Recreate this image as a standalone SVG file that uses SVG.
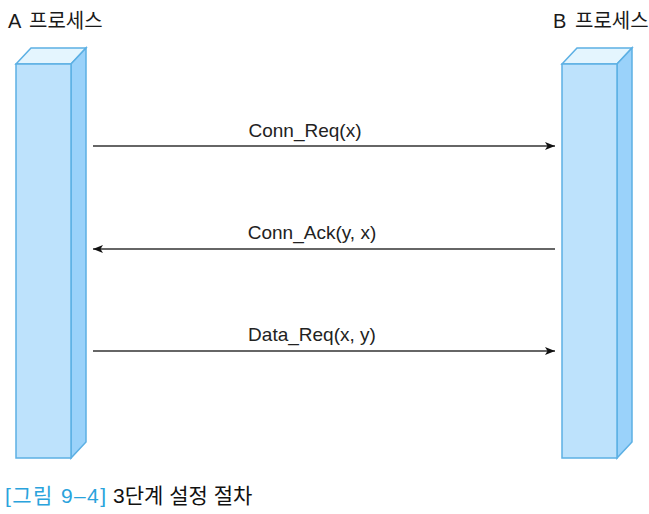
<svg xmlns="http://www.w3.org/2000/svg" width="649" height="514" viewBox="0 0 649 514">
<defs>
<style>
.front{fill:#bde2fc;stroke:#5cb0e4;stroke-width:1.5}
.top{fill:#e4f5fe;stroke:#5cb0e4;stroke-width:1.5}
.side{fill:#9ad2fa;stroke:#5cb0e4;stroke-width:1.5}
.hdr{font-family:"Liberation Sans","Noto Sans CJK KR",sans-serif;font-size:20px;fill:#1a1a1a}
.lbl{font-family:"Liberation Sans","Noto Sans CJK KR",sans-serif;font-size:19px;fill:#222;text-anchor:middle}
.msg{stroke:#333;stroke-width:1.3;fill:none}
.cap{font-family:"Liberation Sans","Noto Sans CJK KR",sans-serif;font-size:21px;fill:#111}
</style>
<marker id="ah" viewBox="0 0 10 8" refX="10" refY="4" markerWidth="10" markerHeight="8" markerUnits="userSpaceOnUse" orient="auto">
<path d="M0,0 L10,4 L0,8 L2.5,4 Z" fill="#111"/>
</marker>
</defs>
<rect width="649" height="514" fill="#fff"/>
<g id="procA">
<text class="hdr" x="8" y="28">A<tspan x="29">프로세스</tspan></text>
<polygon class="top" points="16,64 31,48 86,48 71,64"/>
<polygon class="side" points="71,64 86,48 86,442 71,458"/>
<rect class="front" x="16" y="64" width="55" height="394"/>
</g>
<g id="procB">
<text class="hdr" x="553" y="28">B<tspan x="575">프로세스</tspan></text>
<polygon class="top" points="562,64 577,48 632,48 617,64"/>
<polygon class="side" points="617,64 632,48 632,442 617,458"/>
<rect class="front" x="562" y="64" width="55" height="394"/>
</g>
<g id="connectors">
<line class="msg" x1="93" y1="146" x2="555" y2="146" marker-end="url(#ah)"/>
<text class="lbl" x="305" y="137">Conn_Req(x)</text>
<line class="msg" x1="555" y1="249" x2="93" y2="249" marker-end="url(#ah)"/>
<text class="lbl" x="312" y="239">Conn_Ack(y, x)</text>
<line class="msg" x1="93" y1="351" x2="555" y2="351" marker-end="url(#ah)"/>
<text class="lbl" x="312" y="341">Data_Req(x, y)</text>
</g>
<g id="caption">
<text class="cap" x="5" y="503"><tspan fill="#2aa3dc" textLength="101" lengthAdjust="spacing">[그림 9–4]</tspan><tspan x="113">3단계 설정 절차</tspan></text>
</g>
</svg>
